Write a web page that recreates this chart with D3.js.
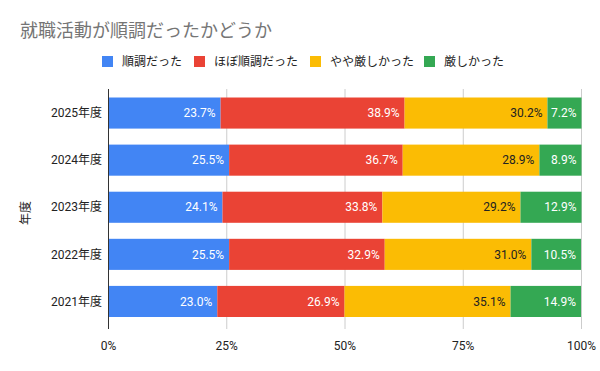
<!DOCTYPE html>
<html>
<head>
<meta charset="utf-8">
<script src="https://cdn.jsdelivr.net/npm/d3@7"></script>
<style>
  body { margin: 0; background: #fff; }
  text { font-family: Roboto, "Noto Sans CJK JP", sans-serif; }
</style>
</head>
<body>
<script>
// data
var years = ["2025年度", "2024年度", "2023年度", "2022年度", "2021年度"];
var seriesNames = ["順調だった", "ほぼ順調だった", "やや厳しかった", "厳しかった"];
var smooth = [23.7, 25.5, 24.1, 25.5, 23.0];
var mostlySmooth = [38.9, 36.7, 33.8, 32.9, 26.9];
var somewhatHard = [30.2, 28.9, 29.2, 31.0, 35.1];
var hard = [7.2, 8.9, 12.9, 10.5, 14.9];
var ticks = [0, 25, 50, 75, 100];
var colors = ["#4285f4", "#ea4335", "#fbbc04", "#34a853"];
var labelColors = ["#fff", "#fff", "#222", "#fff"];

var width = 600, height = 371;
var svg = d3.select("body").append("svg")
  .attr("width", width)
  .attr("height", height);

// title
svg.append("text")
  .attr("x", 20).attr("y", 37)
  .attr("font-size", 18)
  .attr("fill", "#757575")
  .text("就職活動が順調だったかどうか");

var x = d3.scaleLinear().domain([0, 100]).range([108.5, 581.5]);
var y = d3.scaleBand().domain(years).range([89.5, 325]).paddingInner(0.34).paddingOuter(0.17);

// gridlines
svg.append("g").selectAll("line")
  .data(ticks.slice(1))
  .enter().append("line")
  .attr("x1", d => x(d)).attr("x2", d => x(d))
  .attr("y1", 89).attr("y2", 329)
  .attr("stroke", "#cccccc").attr("stroke-width", 1);

// stack
var rows = years.map(function(yr, i) {
  return { year: yr, s0: smooth[i], s1: mostlySmooth[i], s2: somewhatHard[i], s3: hard[i] };
});
var stack = d3.stack().keys(["s0", "s1", "s2", "s3"]);
var layers = stack(rows);

var g = svg.append("g");
layers.forEach(function(layer, k) {
  g.selectAll(".bar" + k)
    .data(layer)
    .enter().append("rect")
    .attr("x", d => x(d[0]))
    .attr("y", d => y(d.data.year))
    .attr("width", d => x(d[1]) - x(d[0]))
    .attr("height", y.bandwidth())
    .attr("fill", colors[k]);

  g.selectAll(".lab" + k)
    .data(layer)
    .enter().append("text")
    .attr("x", d => x(d[1]) - 5)
    .attr("y", d => y(d.data.year) + y.bandwidth() / 2)
    .attr("dy", "0.35em")
    .attr("text-anchor", "end")
    .attr("font-size", 12)
    .attr("fill", labelColors[k])
    .text(d => (d[1] - d[0]).toFixed(1) + "%");
});

// zero axis line
svg.append("line")
  .attr("x1", x(0)).attr("x2", x(0))
  .attr("y1", 89).attr("y2", 329)
  .attr("stroke", "#333").attr("stroke-width", 1);

// x tick labels
svg.append("g").selectAll("text")
  .data(ticks)
  .enter().append("text")
  .attr("x", d => x(d))
  .attr("y", 350)
  .attr("text-anchor", "middle")
  .attr("font-size", 12)
  .attr("fill", "#222")
  .text(d => d + "%");

// y tick labels
svg.append("g").selectAll("text")
  .data(years)
  .enter().append("text")
  .attr("x", 102)
  .attr("y", d => y(d) + y.bandwidth() / 2)
  .attr("dy", "0.35em")
  .attr("text-anchor", "end")
  .attr("font-size", 12)
  .attr("fill", "#222")
  .text(d => d);

// y axis title
svg.append("text")
  .attr("transform", "translate(30,213) rotate(-90)")
  .attr("text-anchor", "middle")
  .attr("font-size", 12)
  .attr("fill", "#222")
  .text("年度");

// legend
var legendX = [102, 194, 310, 424];
var legend = svg.append("g").selectAll("g")
  .data(seriesNames)
  .enter().append("g")
  .attr("transform", (d, i) => "translate(" + legendX[i] + ",56)");
legend.append("rect")
  .attr("width", 11).attr("height", 11)
  .attr("fill", (d, i) => colors[i]);
legend.append("text")
  .attr("x", 20).attr("y", 6)
  .attr("dy", "0.35em")
  .attr("font-size", 12)
  .attr("fill", "#222")
  .text(d => d);
</script>
</body>
</html>
